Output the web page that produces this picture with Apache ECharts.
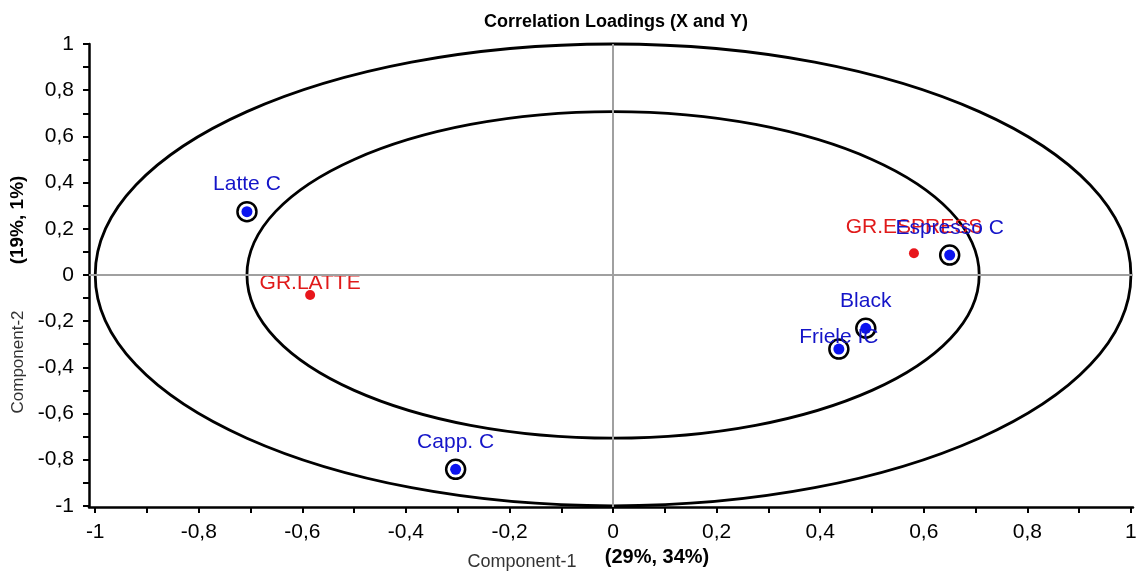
<!DOCTYPE html>
<html>
<head>
<meta charset="utf-8">
<script src="https://cdn.jsdelivr.net/npm/echarts@6/dist/echarts.min.js"></script>
<style>html,body{margin:0;padding:0;background:#fff}#c{width:1141px;height:579px}</style>
</head>
<body>
<div id="c"></div>
<script>
// ---- data ----
const blueNames = ['Latte C', 'Capp. C', 'Friele IC', 'Black', 'Espresso C'];
const blueX = [-0.707, -0.304, 0.436, 0.488, 0.650];
const blueY = [0.274, -0.842, -0.321, -0.231, 0.086];
const redNames = ['GR.LATTE', 'GR.ESPRESS'];
const redX = [-0.585, 0.581];
const redY = [-0.087, 0.094];
const circleRadii = [1.0, 0.707];
const axisLabelValues = [-1, -0.8, -0.6, -0.4, -0.2, 0, 0.2, 0.4, 0.6, 0.8, 1];
const axisTickValues = [-1, -0.9, -0.8, -0.7, -0.6, -0.5, -0.4, -0.3, -0.2, -0.1, 0, 0.1, 0.2, 0.3, 0.4, 0.5, 0.6, 0.7, 0.8, 0.9, 1];

// ---- styling ----
const FONT = 'Liberation Sans, Arial, sans-serif';
const nearLabels = ['GR.LATTE', 'Friele IC'];
const fmt = v => String(Math.round(v * 10) / 10).replace('.', ',');

function pts(names, xs, ys) {
  return names.map((n, i) => ({
    name: n,
    value: [xs[i], ys[i]],
    label: { distance: nearLabels.indexOf(n) >= 0 ? -4 : 11 }
  }));
}

const chart = echarts.init(document.getElementById('c'), null, { renderer: 'canvas' });
const axisCommon = {
  type: 'value',
  axisLine: { onZero: false, lineStyle: { color: '#000', width: 2.5 } },
  axisTick: { show: true, inside: false, length: 6, lineStyle: { color: '#000', width: 2 }, customValues: axisTickValues },
  axisLabel: { customValues: axisLabelValues, formatter: fmt, color: '#000', fontSize: 21, fontFamily: FONT, margin: 15, showMinLabel: true, showMaxLabel: true },
  splitLine: { show: false }
};
chart.setOption({
  animation: false,
  backgroundColor: '#fff',
  title: {
    text: 'Correlation Loadings (X and Y)',
    left: 611, top: 8, textAlign: 'center',
    textStyle: { fontSize: 18, fontWeight: 'bold', color: '#000', fontFamily: FONT }
  },
  grid: { left: 89, right: 8, top: 44, bottom: 72 },
  xAxis: Object.assign({}, axisCommon, { min: -1.012, max: 1.004 }),
  yAxis: Object.assign({}, axisCommon, { min: -1.005, max: 1.0 }),
  graphic: [
    { type: 'text', x: 18, y: 220, rotation: Math.PI / 2,
      style: { text: '(19%, 1%)', font: 'bold 19px ' + FONT, fill: '#000', textAlign: 'center', textVerticalAlign: 'middle' } },
    { type: 'text', x: 18, y: 362, rotation: Math.PI / 2,
      style: { text: 'Component-2', font: '17px ' + FONT, fill: '#333', textAlign: 'center', textVerticalAlign: 'middle' } },
    { type: 'text', x: 522, y: 562,
      style: { text: 'Component-1', font: '18px ' + FONT, fill: '#333', textAlign: 'center', textVerticalAlign: 'middle' } },
    { type: 'text', x: 657, y: 557,
      style: { text: '(29%, 34%)', font: 'bold 20px ' + FONT, fill: '#000', textAlign: 'center', textVerticalAlign: 'middle' } }
  ],
  series: [
    {
      type: 'custom',
      clip: false,
      silent: true,
      data: circleRadii.map(r => [0, 0, r]),
      encode: { x: 0, y: 1 },
      z: 1,
      renderItem: function (params, api) {
        const c = api.coord([api.value(0), api.value(1)]);
        const r = api.value(2);
        const px = api.coord([r, 0]);
        const py = api.coord([0, r]);
        return {
          type: 'ellipse',
          shape: { cx: c[0], cy: c[1], rx: Math.abs(px[0] - c[0]), ry: Math.abs(c[1] - py[1]) },
          style: { fill: null, stroke: '#000', lineWidth: 2.8 }
        };
      }
    },
    {
      type: 'line',
      data: [],
      silent: true,
      z: 0,
      markLine: {
        silent: true, symbol: 'none', label: { show: false },
        lineStyle: { color: '#a0a0a0', width: 2, type: 'solid' },
        data: [{ xAxis: 0 }, { yAxis: 0 }]
      }
    },
    {
      name: 'red', type: 'scatter', z: 3,
      symbol: 'circle', symbolSize: 10,
      itemStyle: { color: '#e8161c', opacity: 1 },
      label: { show: true, position: 'top', formatter: '{b}', color: '#e01a1a', fontSize: 21, fontFamily: FONT },
      data: pts(redNames, redX, redY)
    },
    {
      name: 'rings', type: 'scatter', z: 4,
      symbol: 'circle', symbolSize: 19,
      itemStyle: { color: 'rgba(255,255,255,0)', borderColor: '#000', borderWidth: 2.5, opacity: 1 },
      data: blueNames.map((n, i) => ({ name: n, value: [blueX[i], blueY[i]] }))
    },
    {
      name: 'blue', type: 'scatter', z: 5,
      symbol: 'circle', symbolSize: 11,
      itemStyle: { color: '#0c14f0', opacity: 1 },
      label: { show: true, position: 'top', formatter: '{b}', color: '#1414c8', fontSize: 21, fontFamily: FONT },
      data: pts(blueNames, blueX, blueY)
    }
  ]
});
</script>
</body>
</html>
